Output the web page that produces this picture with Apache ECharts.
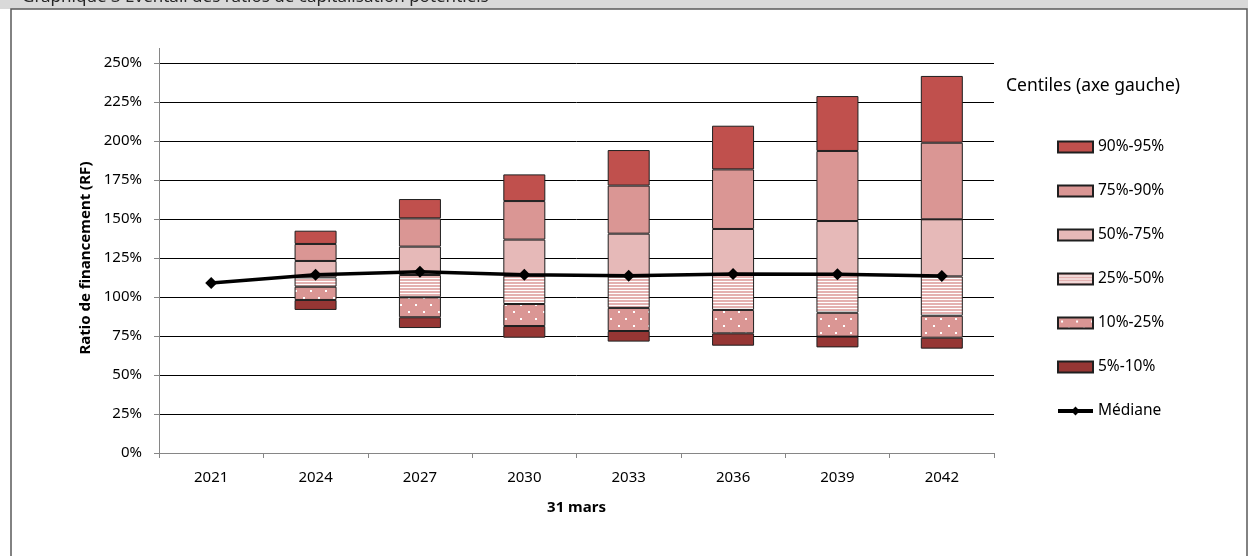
<!DOCTYPE html>
<html>
<head>
<meta charset="utf-8">
<script src="https://cdn.jsdelivr.net/npm/echarts@6/dist/echarts.min.js"></script>
<style>
  html, body { margin: 0; padding: 0; background: #fff; }
  #chart { width: 1248px; height: 556px; }
</style>
</head>
<body>
<div id="chart"></div>
<script>
// 31 mars, one column per projection year
const years = ['2021', '2024', '2027', '2030', '2033', '2036', '2039', '2042'];

// percentiles of the funding ratio (%), null where no fan is drawn
const p5  = [null, 91.7, 80.1, 73.9, 71.4, 68.8, 67.7, 66.9];
const p10 = [null, 98.1, 87.0, 81.4, 78.2, 76.7, 74.6, 73.9];
const p25 = [null, 106.6, 99.8, 95.5, 93.0, 91.7, 89.9, 88.0];
const p50 = [null, 112.6, 114.1, 113.6, 113.2, 114.2, 114.2, 113.2];
const p75 = [null, 123.1, 132.3, 136.8, 140.6, 143.6, 148.7, 149.8];
const p90 = [null, 134.0, 150.4, 161.5, 171.4, 181.8, 193.6, 198.9];
const p95 = [null, 142.5, 162.8, 178.6, 194.2, 209.8, 228.8, 241.7];

const median = [109.0, 114.3, 116.2, 114.2, 113.7, 114.7, 114.6, 113.4];

const yTicks = [0, 25, 50, 75, 100, 125, 150, 175, 200, 225, 250];

// height of a band between two percentile rows
function band(hi, lo) {
  return hi.map((v, i) => (v == null || lo[i] == null ? '-' : +(v - lo[i]).toFixed(2)));
}

function stripePattern() {
  const c = document.createElement('canvas');
  c.width = 4;
  c.height = 3;
  const ctx = c.getContext('2d');
  ctx.fillStyle = '#ffffff';
  ctx.fillRect(0, 0, 4, 3);
  ctx.fillStyle = '#e4b1b0';
  ctx.fillRect(0, 0, 4, 2);
  return { image: c, repeat: 'repeat' };
}

function dotPattern() {
  const c = document.createElement('canvas');
  c.width = 15;
  c.height = 14;
  const ctx = c.getContext('2d');
  ctx.fillStyle = '#da9694';
  ctx.fillRect(0, 0, 15, 14);
  ctx.fillStyle = '#ffffff';
  ctx.fillRect(3, 3, 2, 2);
  ctx.fillRect(10, 10, 2, 2);
  return { image: c, repeat: 'repeat' };
}

const border = { borderColor: '#1f1f1f', borderWidth: 1 };

function bandSeries(name, data, color) {
  return {
    name: name,
    type: 'bar',
    stack: 'fan',
    barWidth: 42,
    data: data,
    itemStyle: Object.assign({ color: color }, border),
  };
}

const chart = echarts.init(document.getElementById('chart'), null, { renderer: 'canvas' });

chart.setOption({
  animation: false,
  textStyle: { fontFamily: 'Noto Sans, sans-serif' },
  graphic: [
    { id: 'band', type: 'rect', shape: { x: 0, y: 0, width: 1248, height: 9 }, style: { fill: '#d9d9d9' }, z: 0 },
    {
      id: 'title', type: 'text', left: 22, top: -11, z: 1,
      style: { text: 'Graphique 3 Éventail des ratios de capitalisation potentiels', fill: '#262626', font: '17px Noto Sans' },
    },
    {
      id: 'frame', type: 'rect', z: 2,
      shape: { x: 11, y: 9, width: 1236, height: 560 },
      style: { fill: 'none', stroke: '#595959', lineWidth: 1.5 },
    },
    {
      id: 'legendTitle', type: 'text', left: 1006, top: 77, z: 3,
      style: { text: 'Centiles (axe gauche)', fill: '#000', font: '17.5px Noto Sans' },
    },
  ],
  grid: { left: 159, right: 254, top: 63, bottom: 103 },
  legend: {
    orient: 'vertical',
    left: 1051,
    top: 134,
    itemWidth: 35,
    itemHeight: 11,
    itemGap: 28,
    itemTextGap: 4,
    textStyle: { color: '#000', fontSize: 15.5 },
    data: [
      { name: '90%-95%', icon: 'rect' },
      { name: '75%-90%', icon: 'rect' },
      { name: '50%-75%', icon: 'rect' },
      { name: '25%-50%', icon: 'rect' },
      { name: '10%-25%', icon: 'rect' },
      { name: '5%-10%', icon: 'rect' },
      { name: 'Médiane', lineStyle: { width: 4, color: '#000' } },
    ],
  },
  xAxis: {
    type: 'category',
    data: years,
    name: '31 mars',
    nameLocation: 'middle',
    nameGap: 47,
    nameTextStyle: { color: '#000', fontSize: 15, fontWeight: 'bold' },
    axisLine: { lineStyle: { color: '#868686', width: 1 } },
    axisTick: { show: true, length: 5, lineStyle: { color: '#868686' } },
    axisLabel: { color: '#000', fontSize: 15, margin: 17 },
    z: 5,
  },
  yAxis: {
    type: 'value',
    min: yTicks[0],
    max: yTicks[yTicks.length - 1],
    interval: 25,
    name: 'Ratio de financement (RF)',
    nameLocation: 'middle',
    nameGap: 65,
    nameTextStyle: { color: '#000', fontSize: 15, fontWeight: 'bold' },
    axisLine: { show: true, lineStyle: { color: '#868686', width: 1 } },
    axisTick: { show: true, length: 5, lineStyle: { color: '#868686' } },
    axisLabel: { color: '#000', fontSize: 15, margin: 17, formatter: (v) => v + '%' },
    splitLine: { lineStyle: { color: '#000', width: 1 } },
  },
  series: [
    {
      name: 'base',
      type: 'bar',
      stack: 'fan',
      barWidth: 42,
      silent: true,
      data: p5.map((v) => (v == null ? '-' : v)),
      itemStyle: { color: 'transparent', borderWidth: 0 },
    },
    bandSeries('5%-10%', band(p10, p5), '#963634'),
    bandSeries('10%-25%', band(p25, p10), dotPattern()),
    bandSeries('25%-50%', band(p50, p25), stripePattern()),
    bandSeries('50%-75%', band(p75, p50), '#e6b9b8'),
    bandSeries('75%-90%', band(p90, p75), '#da9694'),
    bandSeries('90%-95%', band(p95, p90), '#c0504d'),
    {
      name: 'Médiane',
      type: 'line',
      data: median,
      symbol: 'diamond',
      symbolSize: 12,
      z: 10,
      lineStyle: { color: '#000', width: 3.5 },
      itemStyle: { color: '#000' },
    },
  ],
});

// the value axis line runs a little past the top tick, as in the source
const topY = chart.convertToPixel({ yAxisIndex: 0 }, yTicks[yTicks.length - 1]);
chart.setOption({
  graphic: [
    {
      id: 'axisExt', type: 'line', z: 4,
      shape: { x1: 159.5, y1: topY - 15, x2: 159.5, y2: topY },
      style: { stroke: '#868686', lineWidth: 1 },
    },
  ],
});
</script>
</body>
</html>
